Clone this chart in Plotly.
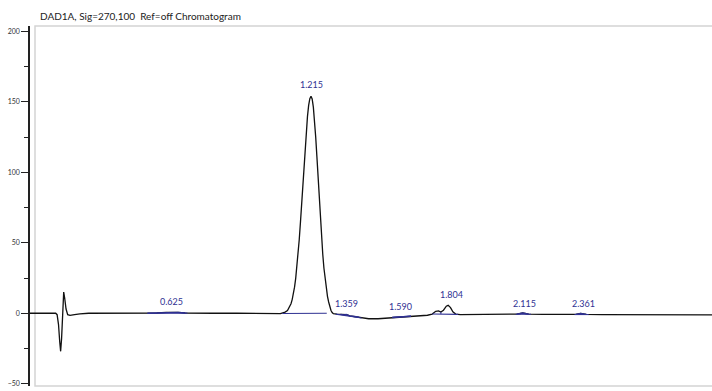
import plotly.graph_objects as go

# ---- data ----
time_min = [0.020, 0.100, 0.130, 0.136, 0.142, 0.147, 0.151, 0.155, 0.159, 0.164,
            0.168, 0.174, 0.181, 0.191, 0.210, 0.233, 0.270, 0.350, 0.450, 0.520,
            0.560, 0.600, 0.625, 0.650, 0.680, 0.720, 0.800, 0.900, 1.000, 1.050,
            1.085, 1.095, 1.105, 1.115, 1.125, 1.130, 1.135, 1.140, 1.145, 1.150,
            1.155, 1.160, 1.165, 1.170, 1.175, 1.180, 1.185, 1.190, 1.195, 1.200,
            1.205, 1.210, 1.215, 1.220, 1.225, 1.230, 1.235, 1.240, 1.245, 1.250,
            1.255, 1.260, 1.265, 1.270, 1.275, 1.280, 1.285, 1.290, 1.295, 1.300,
            1.305, 1.310, 1.325, 1.340, 1.355, 1.365, 1.380, 1.400, 1.420, 1.440,
            1.460, 1.500, 1.530, 1.560, 1.590, 1.610, 1.640, 1.680, 1.710, 1.730,
            1.745, 1.757, 1.767, 1.778, 1.790, 1.798, 1.808, 1.818, 1.830, 1.850,
            1.900, 1.950, 2.050, 2.090, 2.115, 2.140, 2.200, 2.300, 2.340, 2.361,
            2.385, 2.450, 2.600, 2.750, 2.920]
signal_mau = [0.0, 0.0, 0.0, -1.0, -8.0, -20.0, -27.0, -18.0, 0.0, 15.0,
              11.0, 3.0, -1.0, -1.5, -1.0, -0.4, 0.0, 0.0, 0.0, 0.0,
              0.2, 0.6, 0.9, 0.7, 0.2, 0.0, 0.0, 0.0, -0.1, -0.2,
              -0.3, 0.3, 0.8, 2.0, 4.6, 6.8, 9.7, 13.5, 18.5, 24.8,
              32.5, 41.7, 52.2, 64.1, 77.1, 90.7, 104.4, 117.5, 129.5, 139.7,
              147.5, 152.3, 154.0, 152.0, 146.2, 137.0, 125.1, 111.3, 96.4, 81.4,
              67.0, 53.7, 41.9, 31.9, 23.7, 17.1, 12.0, 8.0, 4.5, 2.0,
              0.5, -0.3, -0.6, -0.8, -1.2, -0.9, -1.9, -2.3, -2.8, -3.5,
              -3.9, -3.9, -3.6, -3.0, -2.6, -2.6, -2.1, -1.7, -1.4, -0.6,
              1.4, 1.7, 0.9, 2.2, 5.0, 5.6, 4.0, 1.0, -0.6, -1.0,
              -0.9, -0.8, -0.7, -0.6, 0.2, -0.6, -0.8, -0.9, -0.8, -0.1,
              -0.8, -1.0, -1.1, -1.2, -1.2]

peak_labels = ["0.625", "1.215", "1.359", "1.590", "1.804", "2.115", "2.361"]
label_time = [0.623, 1.215, 1.366, 1.597, 1.810, 2.123, 2.371]
label_value = [8.0, 162.0, 6.6, 4.7, 13.0, 6.6, 7.1]

# integration baselines (start t, start value, end t, end value)
base_t0 = [0.520, 1.093, 1.320, 1.560, 1.730, 2.085, 2.335]
base_v0 = [0.0, -0.2, -0.6, -2.8, -0.5, -0.7, -0.9]
base_t1 = [0.690, 1.282, 1.430, 1.640, 1.840, 2.150, 2.395]
base_v1 = [0.1, 0.0, -3.3, -2.0, -0.8, -0.7, -0.9]
# highlighted (integrated) windows drawn in blue over the trace
blue_windows = [(0.52, 0.69), (1.33, 1.43), (1.56, 1.64), (2.08, 2.15), (2.33, 2.40)]
drop_time = [1.767]

y_tick_vals = [-50, 0, 50, 100, 150, 200]
title_text = "DAD1A, Sig=270,100&nbsp; Ref=off Chromatogram"

BLUE = "#2f3192"

fig = go.Figure()
fig.add_trace(go.Scatter(x=time_min, y=signal_mau, mode="lines",
                         line=dict(color="#111111", width=1.3), hoverinfo="skip"))

for (a, b) in blue_windows:
    xs = [t for t in time_min if a <= t <= b]
    ys = [v for t, v in zip(time_min, signal_mau) if a <= t <= b]
    fig.add_trace(go.Scatter(x=xs, y=ys, mode="lines",
                             line=dict(color=BLUE, width=1.3), hoverinfo="skip"))

for t0, v0, t1, v1 in zip(base_t0, base_v0, base_t1, base_v1):
    fig.add_trace(go.Scatter(x=[t0, t1], y=[v0, v1], mode="lines",
                             line=dict(color=BLUE, width=1.1), hoverinfo="skip"))

for td in drop_time:
    vd = [v for t, v in zip(time_min, signal_mau) if t == td][0]
    fig.add_trace(go.Scatter(x=[td, td], y=[vd, -0.6], mode="lines",
                             line=dict(color=BLUE, width=1), hoverinfo="skip"))

for lab, t, v in zip(peak_labels, label_time, label_value):
    fig.add_annotation(x=t, y=v, text=lab, showarrow=False, xanchor="center",
                       yanchor="middle",
                       font=dict(family="Lato", size=9, color=BLUE))

fig.add_annotation(xref="paper", yref="paper", x=8 / 682, y=1 + 10 / 360,
                   text=title_text, showarrow=False, xanchor="left", yanchor="middle",
                   font=dict(family="Lato", size=10, color="#222222"))

# light gray frame of the plot area
fig.add_shape(type="rect", xref="paper", yref="paper", x0=5 / 682, x1=1.05, y0=0, y1=1,
              line=dict(color="#d4d4d4", width=1.5), layer="below")

fig.update_layout(
    width=712, height=391,
    margin=dict(l=30, r=0, t=26, b=5),
    paper_bgcolor="white", plot_bgcolor="white",
    showlegend=False,
    xaxis=dict(range=[0.0208, 2.9192], visible=False),
    yaxis=dict(range=[-51.6, 203.8], tickvals=y_tick_vals, ticks="outside",
               ticklen=7, tickwidth=1, tickcolor="#222", showline=True,
               linecolor="#222", linewidth=1.5, showgrid=False, zeroline=False,
               tickfont=dict(family="Lato", size=7, color="#333"),
               minor=dict(dtick=25, ticks="outside", ticklen=4, tickcolor="#222",
                          showgrid=False)),
)

fig.write_html("out.html")
